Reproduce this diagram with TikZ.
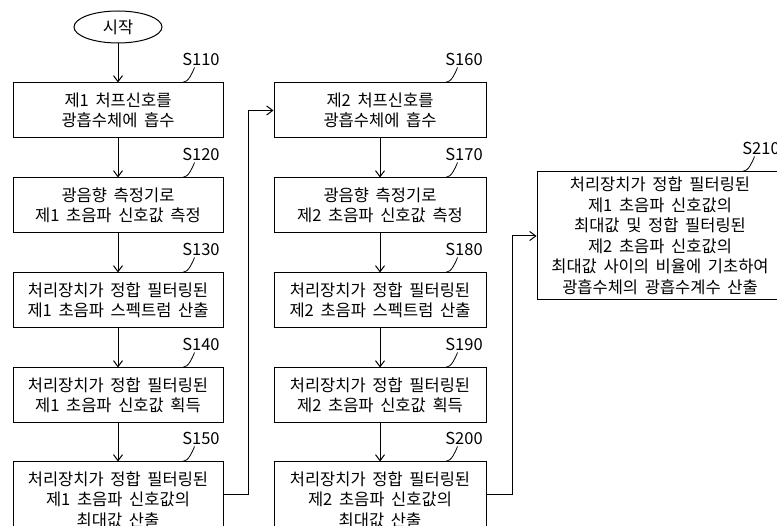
\documentclass[tikz,border=0pt]{standalone}
\usepackage{fontspec}
\setmainfont{Noto Sans CJK KR}[WordSpace=1.8]
\usetikzlibrary{shapes.geometric,arrows.meta}
\begin{document}
\begin{tikzpicture}[>={Straight Barb[length=6pt,width=9pt]}, x=1pt, y=-1pt, line width=1pt,
  font=\fontsize{16.5}{20.5}\selectfont,
  box/.style={draw, rectangle, align=center, inner sep=0pt, minimum height=55pt},
  boxl/.style={box, minimum width=210pt},
  boxm/.style={box, minimum width=212pt}]
 \useasboundingbox (0,0) rectangle (777,526);
 \node[draw, ellipse, minimum width=88pt, minimum height=32pt, inner sep=0pt] (start) at (118,27) {시작};
 \node[boxl] (s110) at (118,110.5) {제1 처프신호를\\광흡수체에 흡수};
 \node[boxl] (s120) at (118,205.5) {광음향 측정기로\\제1 초음파 신호값 측정};
 \node[boxl] (s130) at (118,300.5) {처리장치가 정합 필터링된\\제1 초음파 스펙트럼 산출};
 \node[boxl] (s140) at (118,395.5) {처리장치가 정합 필터링된\\제1 초음파 신호값 획득};
 \node[boxl, minimum height=75pt] (s150) at (118,499.5) {처리장치가 정합 필터링된\\제1 초음파 신호값의\\최대값 산출};
 \node[boxm] (s160) at (380,110.5) {제2 처프신호를\\광흡수체에 흡수};
 \node[boxm] (s170) at (380,205.5) {광음향 측정기로\\제2 초음파 신호값 측정};
 \node[boxm] (s180) at (380,300.5) {처리장치가 정합 필터링된\\제2 초음파 스펙트럼 산출};
 \node[boxm] (s190) at (380,395.5) {처리장치가 정합 필터링된\\제2 초음파 신호값 획득};
 \node[boxm, minimum height=75pt] (s200) at (380,499.5) {처리장치가 정합 필터링된\\제2 초음파 신호값의\\최대값 산출};
 \node[box, minimum width=246pt, minimum height=128pt] (s210) at (660,236) {처리장치가 정합 필터링된\\제1 초음파 신호값의\\최대값 및 정합 필터링된\\제2 초음파 신호값의\\최대값 사이의 비율에 기초하여\\광흡수체의 광흡수계수 산출};
 \foreach \n/\t in {s110/S110,s120/S120,s130/S130,s140/S140,s150/S150,s160/S160,s170/S170,s180/S180,s190/S190,s200/S200,s210/S210}
  \draw[line width=0.8pt] ([xshift=-41pt]\n.north east) .. controls +(6,0) and +(-2,5) .. ++(12,-15) node[above, xshift=6.5pt, inner sep=1pt] {\t};
 \draw[->] (start) -- (s110);
 \foreach \a/\b in {s110/s120,s120/s130,s130/s140,s140/s150,s160/s170,s170/s180,s180/s190,s190/s200}
  \draw[->] (\a) -- (\b);
 \draw[->] ([yshift=5pt]s150.east) -- ++(25,0) |- (s160);
 \draw[->] ([yshift=5pt]s200.east) -- ++(26,0) |- (s210);
\end{tikzpicture}
\end{document}
